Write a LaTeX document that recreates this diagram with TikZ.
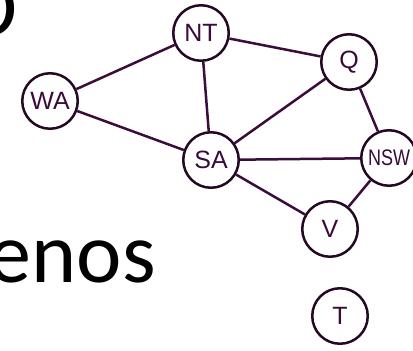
\documentclass[tikz,border=0pt]{standalone}
\usepackage{fontspec}
\setmainfont{Liberation Sans}
\newfontfamily\calib{Carlito}
\definecolor{edgecol}{HTML}{3A0D3A}
\definecolor{ringcol}{HTML}{240824}
\definecolor{labcol}{HTML}{3A0A3A}
\begin{document}
\begin{tikzpicture}[x=1pt,y=-1pt,
  state/.style={circle,draw=ringcol,line width=2.5pt,fill=white,minimum size=55.5pt,inner sep=0pt,
    text=labcol,font=\fontsize{25pt}{25pt}\selectfont},
  link/.style={draw=edgecol,line width=2.5pt}]
\useasboundingbox (0,0) rectangle (413,351);
\fill[white] (0,0) rectangle (413,351);
% partial slide text
\node[anchor=base east,inner sep=0pt,font=\calib\fontsize{86pt}{86pt}\selectfont] (ttl) at (18,36) {D};
\node[anchor=base east,inner sep=0pt,font=\calib\fontsize{86pt}{86pt}\selectfont] (txt) at (156,282) {enos};
% graph
\node[state] (WA) at (50,101) {WA};
\node[state] (NT) at (201,33) {NT};
\node[state] (Q) at (349,62) {Q};
\node[state] (SA) at (211,160) {SA};
\node[state] (NSW) at (389,158) {\scalebox{0.72}[0.9]{NSW}};
\node[state] (V) at (330,229) {V};
\node[state] (T) at (340,316) {T};
\draw[link] (WA) -- (NT);
\draw[link] (WA) -- (SA);
\draw[link] (NT) -- (SA);
\draw[link] (NT) -- (Q);
\draw[link] (SA) -- (Q);
\draw[link] (SA) -- (NSW);
\draw[link] (SA) -- (V);
\draw[link] (Q) -- (NSW);
\draw[link] (NSW) -- (V);
\end{tikzpicture}
\end{document}
